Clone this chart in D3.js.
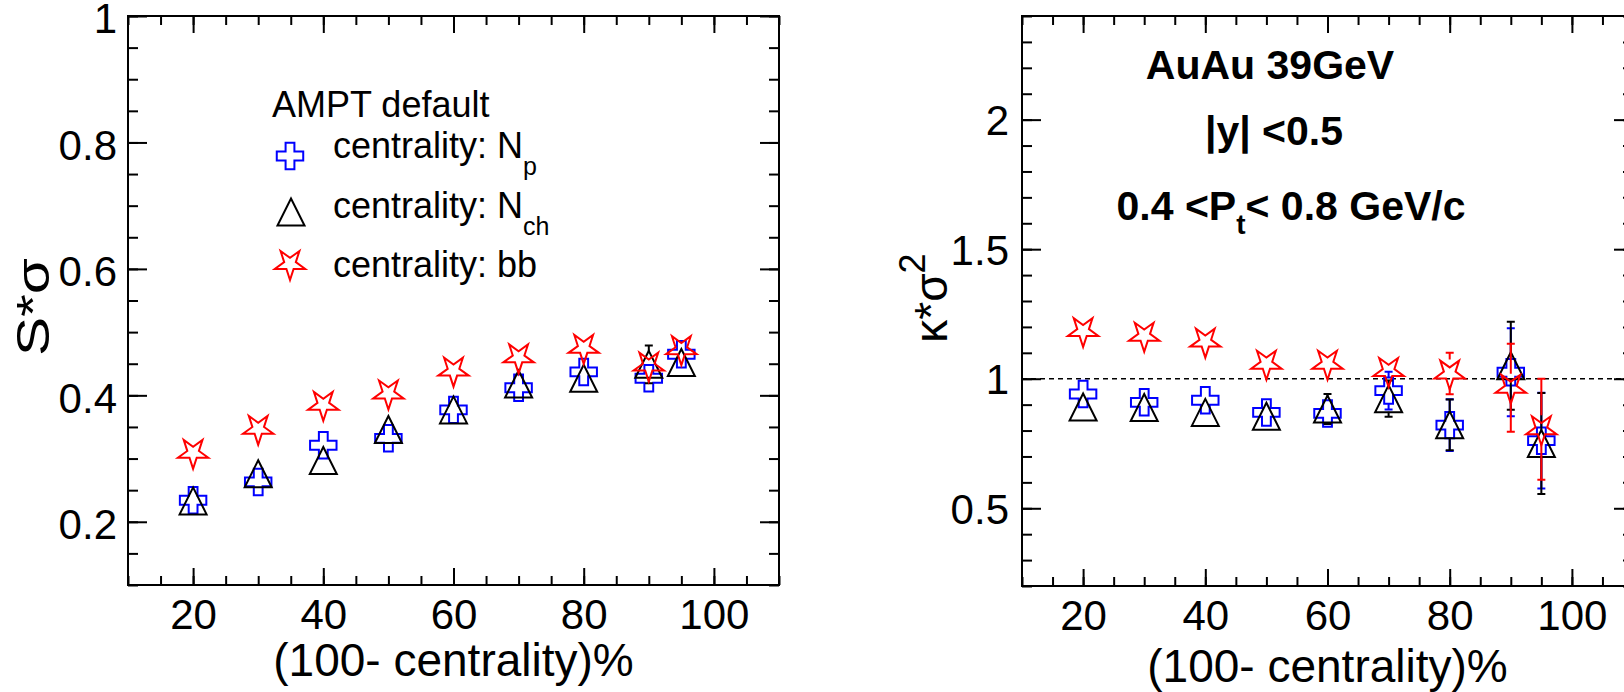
<!DOCTYPE html>
<html>
<head>
<meta charset="utf-8">
<script src="https://cdn.jsdelivr.net/npm/d3@7"></script>
<style>
  body { margin: 0; background: #fff; }
  svg { display: block; font-family: "Liberation Sans", Arial, sans-serif; }
  .tick text { font-size: 42px; fill: #000; }
  .tick line { stroke: #000; stroke-width: 2; }
  .frame { fill: none; stroke: #000; stroke-width: 2; }
  .axis-title { font-size: 46px; fill: #000; }
  .legend-text { font-size: 36px; fill: #000; }
  .note { font-size: 41px; font-weight: bold; fill: #000; }
</style>
</head>
<body>
<div id="chart"></div>
<script>
// Data
const centrality = [20, 30, 40, 50, 60, 70, 80, 90, 95];

// S*sigma (left panel)
const sSigmaNp     = [0.234, 0.263, 0.321, 0.332, 0.377, 0.412, 0.437, 0.427, 0.465];
const sSigmaNpErr  = [0.006, 0.006, 0.007, 0.007, 0.008, 0.009, 0.010, 0.012, 0.012];
const sSigmaNch    = [0.233, 0.276, 0.297, 0.346, 0.377, 0.418, 0.427, 0.449, 0.452];
const sSigmaNchErr = [0.006, 0.006, 0.007, 0.007, 0.008, 0.009, 0.012, 0.030, 0.016];
const sSigmaBb     = [0.309, 0.347, 0.385, 0.403, 0.439, 0.460, 0.475, 0.447, 0.473];
const sSigmaBbErr  = [0.006, 0.006, 0.007, 0.007, 0.008, 0.009, 0.012, 0.015, 0.020];

// K*sigma^2 (right panel)
const kSigma2Np     = [0.941, 0.909, 0.917, 0.870, 0.866, 0.954, 0.821, 1.025, 0.761];
const kSigma2NpErr  = [0.030, 0.030, 0.030, 0.035, 0.040, 0.073, 0.100, 0.170, 0.185];
const kSigma2Nch    = [0.891, 0.889, 0.870, 0.855, 0.883, 0.923, 0.822, 1.050, 0.750];
const kSigma2NchErr = [0.030, 0.030, 0.030, 0.035, 0.058, 0.070, 0.098, 0.170, 0.195];
const kSigma2Bb     = [1.184, 1.166, 1.143, 1.058, 1.058, 1.030, 1.020, 0.965, 0.805];
const kSigma2BbErr  = [0.030, 0.030, 0.030, 0.038, 0.045, 0.050, 0.080, 0.170, 0.195];

// Tick labels
const xTicks = [20, 40, 60, 80, 100];
const leftYTicks = [0.2, 0.4, 0.6, 0.8, 1];
const rightYTicks = [0.5, 1, 1.5, 2];

// ROOT-like open markers
const openCross = {
    draw(ctx, size) {
        const r = Math.sqrt(size) / 2, a = r / 3;
        ctx.moveTo(-a, -r); ctx.lineTo(a, -r); ctx.lineTo(a, -a); ctx.lineTo(r, -a);
        ctx.lineTo(r, a); ctx.lineTo(a, a); ctx.lineTo(a, r); ctx.lineTo(-a, r);
        ctx.lineTo(-a, a); ctx.lineTo(-r, a); ctx.lineTo(-r, -a); ctx.lineTo(-a, -a);
        ctx.closePath();
    }
};
const openTriangle = {
    draw(ctx, size) {
        const r = Math.sqrt(size) / 2;
        ctx.moveTo(0, -r); ctx.lineTo(r, r); ctx.lineTo(-r, r); ctx.closePath();
    }
};
const openStarDown = {
    draw(ctx, size) {
        const R = Math.sqrt(size) / 2;
        for (let i = 0; i < 10; i++) {
            const a = Math.PI / 2 + i * Math.PI / 5;
            const rad = i % 2 === 0 ? R : R * 0.382;
            if (i === 0) ctx.moveTo(rad * Math.cos(a), rad * Math.sin(a));
            else ctx.lineTo(rad * Math.cos(a), rad * Math.sin(a));
        }
        ctx.closePath();
    }
};

// gap = how far the marker covers the error bar (ROOT does not draw it inside the marker)
const styles = {
    np:  { color: "#0000ff", type: openCross, size: 700, gap: 13 },
    nch: { color: "#000000", type: openTriangle, size: 730, gap: 13 },
    bb:  { color: "#ff0000", type: openStarDown, size: 1024, gap: 14 }
};

const svg = d3.select("#chart")
    .append("svg")
    .attr("width", 1624)
    .attr("height", 692);

svg.append("rect").attr("width", 1624).attr("height", 692).attr("fill", "#fff");

function createPanel(opt) {
    const x = d3.scaleLinear().domain([10, 110]).range([opt.left, opt.right]);
    const y = d3.scaleLinear().domain(opt.yDomain).range([opt.bottom, opt.top]);
    const g = svg.append("g");
    const noDomain = (s) => s.select(".domain").remove();

    // minor ticks
    const xMinor = d3.range(10, 111, 5);
    const yMinor = d3.range(opt.yDomain[0], opt.yDomain[1] + 1e-9, opt.yMinorStep);
    g.append("g").attr("transform", `translate(0,${opt.bottom})`)
        .call(d3.axisBottom(x).tickValues(xMinor).tickSize(-9).tickFormat("")).call(noDomain);
    g.append("g").attr("transform", `translate(0,${opt.top})`)
        .call(d3.axisTop(x).tickValues(xMinor).tickSize(-9).tickFormat("")).call(noDomain);
    g.append("g").attr("transform", `translate(${opt.left},0)`)
        .call(d3.axisLeft(y).tickValues(yMinor).tickSize(-10).tickFormat("")).call(noDomain);
    g.append("g").attr("transform", `translate(${opt.right},0)`)
        .call(d3.axisRight(y).tickValues(yMinor).tickSize(-10).tickFormat("")).call(noDomain);

    // major ticks
    g.append("g").attr("transform", `translate(0,${opt.bottom})`)
        .call(d3.axisBottom(x).tickValues(xTicks).tickSize(-17).tickPadding(14)).call(noDomain);
    g.append("g").attr("transform", `translate(0,${opt.top})`)
        .call(d3.axisTop(x).tickValues(xTicks).tickSize(-17).tickFormat("")).call(noDomain);
    g.append("g").attr("transform", `translate(${opt.left},0)`)
        .call(d3.axisLeft(y).tickValues(opt.yTicks).tickSize(-19).tickPadding(opt.yPad).tickFormat(d3.format("~g")))
        .call(noDomain)
        .selectAll("text").attr("dy", opt.yDy);
    g.append("g").attr("transform", `translate(${opt.right},0)`)
        .call(d3.axisRight(y).tickValues(opt.yTicks).tickSize(-19).tickFormat("")).call(noDomain);

    g.selectAll(".tick text").attr("font-family", null).attr("font-size", null);

    g.append("rect").attr("class", "frame")
        .attr("x", opt.left).attr("y", opt.top)
        .attr("width", opt.right - opt.left).attr("height", opt.bottom - opt.top);

    if (opt.refLine !== undefined) {
        g.append("line")
            .attr("x1", opt.left).attr("x2", opt.right)
            .attr("y1", y(opt.refLine)).attr("y2", y(opt.refLine))
            .attr("stroke", "#000").attr("stroke-width", 1.6).attr("stroke-dasharray", "5,4");
    }

    // series: error bars (outside the marker only) then markers
    opt.series.forEach((s) => {
        const st = styles[s.key];
        const pts = centrality.map((c, i) => ({ x: c, v: s.values[i], e: s.errors[i] }));
        const sg = g.append("g");
        sg.selectAll(".err").data(pts).enter().append("path")
            .attr("d", (d) => {
                const px = x(d.x), py = y(d.v), lo = y(d.v - d.e), hi = y(d.v + d.e);
                let p = "";
                if (hi < py - st.gap) p += `M${px},${py - st.gap}V${hi}M${px - 4},${hi}H${px + 4}`;
                if (lo > py + st.gap) p += `M${px},${py + st.gap}V${lo}M${px - 4},${lo}H${px + 4}`;
                return p || null;
            })
            .attr("stroke", st.color).attr("stroke-width", 2).attr("fill", "none");
        sg.selectAll(".mark").data(pts).enter().append("path")
            .attr("transform", (d) => `translate(${x(d.x)},${y(d.v)})`)
            .attr("d", d3.symbol().type(st.type).size(st.size))
            .attr("fill", "none").attr("stroke", st.color).attr("stroke-width", 2);
    });

    // x title
    g.append("text").attr("class", "axis-title")
        .attr("x", (opt.left + opt.right) / 2).attr("y", opt.xTitleY)
        .attr("text-anchor", "middle")
        .text("(100- centrality)%");

    return { x, y, g };
}

// Left panel: S*sigma
const left = createPanel({
    left: 128, right: 779, top: 16, bottom: 585,
    yDomain: [0.1, 1], yTicks: leftYTicks, yMinorStep: 0.05, yPad: 11, yDy: "0.4em",
    xTitleY: 676,
    series: [
        { key: "np", values: sSigmaNp, errors: sSigmaNpErr },
        { key: "nch", values: sSigmaNch, errors: sSigmaNchErr },
        { key: "bb", values: sSigmaBb, errors: sSigmaBbErr }
    ]
});

// Right panel: K*sigma^2
const right = createPanel({
    left: 1022, right: 1633, top: 16, bottom: 586,
    yDomain: [0.2, 2.4], yTicks: rightYTicks, yMinorStep: 0.1, yPad: 13, yDy: "0.36em",
    xTitleY: 682, refLine: 1,
    series: [
        { key: "np", values: kSigma2Np, errors: kSigma2NpErr },
        { key: "nch", values: kSigma2Nch, errors: kSigma2NchErr },
        { key: "bb", values: kSigma2Bb, errors: kSigma2BbErr }
    ]
});

// Y titles
svg.append("text").attr("class", "axis-title")
    .attr("transform", "translate(49,307) rotate(-90)")
    .attr("text-anchor", "middle")
    .attr("font-size", 50)
    .attr("textLength", 98).attr("lengthAdjust", "spacingAndGlyphs")
    .text("S*σ");

const kt = svg.append("text").attr("class", "axis-title")
    .attr("transform", "translate(947,298) rotate(-90)")
    .attr("text-anchor", "middle")
    .attr("font-size", 52);
kt.append("tspan").text("κ*σ");
kt.append("tspan").attr("dy", -22).attr("font-size", 36).text("2");

// Legend (left panel)
svg.append("text").attr("class", "legend-text").attr("x", 272).attr("y", 117).text("AMPT default");
const legendRows = [
    { key: "np", label: "centrality: N", sub: "p", mx: 290, my: 156, ty: 158 },
    { key: "nch", label: "centrality: N", sub: "ch", mx: 291, my: 212, ty: 218 },
    { key: "bb", label: "centrality: bb", sub: "", mx: 290, my: 264, ty: 277 }
];
legendRows.forEach((r) => {
    const st = styles[r.key];
    svg.append("path")
        .attr("transform", `translate(${r.mx},${r.my})`)
        .attr("d", d3.symbol().type(st.type).size(st.size))
        .attr("fill", "none").attr("stroke", st.color).attr("stroke-width", 2);
    const t = svg.append("text").attr("class", "legend-text").attr("x", 333).attr("y", r.ty);
    t.append("tspan").text(r.label);
    if (r.sub) t.append("tspan").attr("dy", 17).attr("font-size", 25).text(r.sub);
});

// Annotations (right panel)
svg.append("text").attr("class", "note").attr("x", 1270).attr("y", 79)
    .attr("text-anchor", "middle").text("AuAu 39GeV");
svg.append("text").attr("class", "note").attr("x", 1274).attr("y", 145)
    .attr("text-anchor", "middle").text("|y| <0.5");
const pt = svg.append("text").attr("class", "note").attr("x", 1291).attr("y", 220)
    .attr("text-anchor", "middle");
pt.append("tspan").text("0.4 <P");
pt.append("tspan").attr("dy", 14).attr("font-size", 28).text("t");
pt.append("tspan").attr("dy", -14).text("< 0.8 GeV/c");
</script>
</body>
</html>
